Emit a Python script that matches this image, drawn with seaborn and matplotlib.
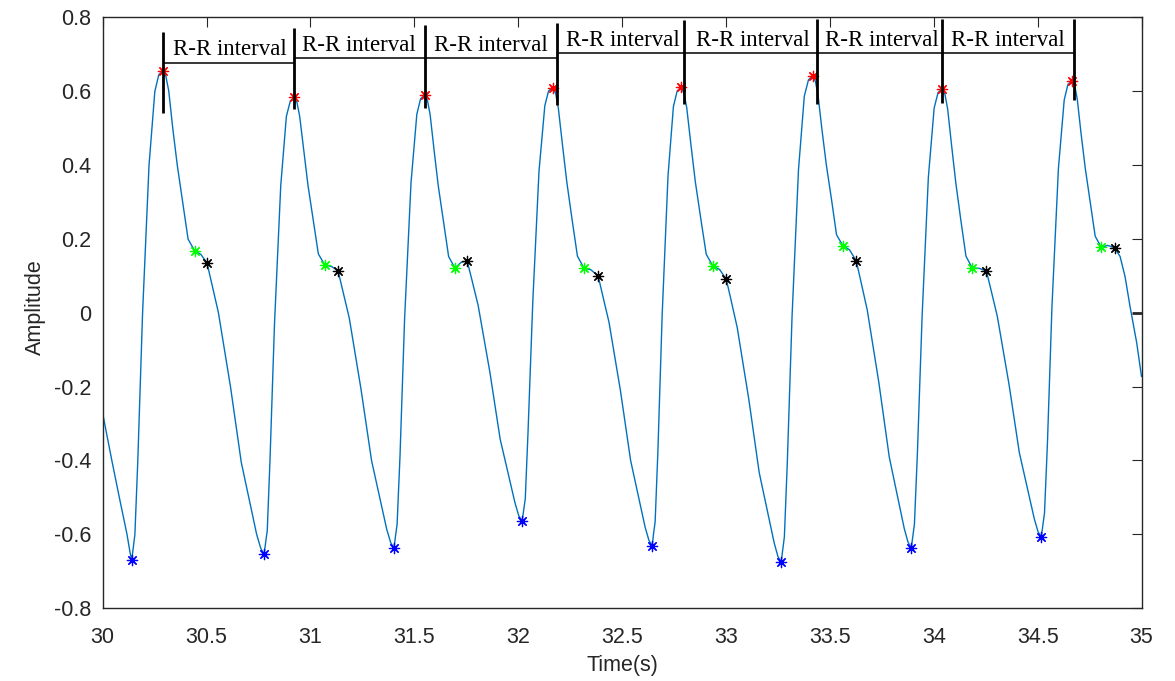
import numpy as np
import pandas as pd
import seaborn as sns
import matplotlib.pyplot as plt
from matplotlib.ticker import FuncFormatter


# -----------------------------
# DATA
# -----------------------------
# PPG trace, sampled by eye along the blue curve
time_s = [
    30.000, 30.044, 30.080, 30.117, 30.132, 30.140,
    30.147, 30.155, 30.169, 30.192, 30.223, 30.251, 30.270, 30.290, 30.304, 30.318, 30.337, 30.359,
    30.385, 30.411, 30.443, 30.472, 30.502, 30.521, 30.557, 30.615, 30.667, 30.741, 30.761, 30.777,
    30.784, 30.792, 30.805, 30.827, 30.857, 30.884, 30.903, 30.922, 30.935, 30.948, 30.968, 30.988,
    31.013, 31.038, 31.069, 31.101, 31.133, 31.152, 31.187, 31.243, 31.294, 31.367, 31.386, 31.402,
    31.409, 31.417, 31.431, 31.453, 31.484, 31.512, 31.530, 31.550, 31.563, 31.576, 31.595, 31.615,
    31.640, 31.665, 31.695, 31.725, 31.754, 31.773, 31.807, 31.863, 31.913, 31.985, 32.003, 32.019,
    32.026, 32.034, 32.047, 32.070, 32.100, 32.128, 32.146, 32.166, 32.180, 32.193, 32.213, 32.234,
    32.259, 32.285, 32.316, 32.350, 32.385, 32.403, 32.437, 32.492, 32.541, 32.611, 32.629, 32.645,
    32.651, 32.659, 32.672, 32.693, 32.721, 32.747, 32.765, 32.783, 32.797, 32.811, 32.831, 32.852,
    32.878, 32.905, 32.937, 32.969, 33.001, 33.020, 33.054, 33.110, 33.160, 33.232, 33.250, 33.266,
    33.273, 33.281, 33.295, 33.318, 33.349, 33.377, 33.397, 33.417, 33.430, 33.443, 33.462, 33.483,
    33.508, 33.532, 33.563, 33.595, 33.627, 33.646, 33.680, 33.736, 33.786, 33.858, 33.876, 33.892,
    33.899, 33.907, 33.921, 33.944, 33.974, 34.002, 34.021, 34.041, 34.054, 34.067, 34.086, 34.106,
    34.130, 34.155, 34.185, 34.219, 34.253, 34.272, 34.306, 34.362, 34.412, 34.484, 34.502, 34.518,
    34.525, 34.533, 34.547, 34.569, 34.600, 34.628, 34.646, 34.666, 34.679, 34.691, 34.709, 34.729,
    34.753, 34.777, 34.806, 34.837, 34.870, 34.897, 34.921, 34.945, 34.977, 35.000,
]
amplitude = [
    -0.273, -0.400, -0.500, -0.600, -0.650, -0.669,
    -0.636, -0.600, -0.400, 0.000, 0.399, 0.599, 0.644, 0.655, 0.640, 0.600, 0.500, 0.399,
    0.299, 0.199, 0.167, 0.158, 0.135, 0.088, 0.000, -0.200, -0.405, -0.600, -0.638, -0.654,
    -0.623, -0.590, -0.403, -0.029, 0.344, 0.531, 0.573, 0.583, 0.569, 0.532, 0.439, 0.345,
    0.252, 0.159, 0.129, 0.125, 0.113, 0.068, -0.015, -0.206, -0.400, -0.586, -0.622, -0.637,
    -0.606, -0.573, -0.388, -0.018, 0.352, 0.537, 0.579, 0.589, 0.575, 0.536, 0.440, 0.344,
    0.248, 0.152, 0.121, 0.136, 0.140, 0.098, 0.020, -0.159, -0.342, -0.516, -0.550, -0.564,
    -0.535, -0.503, -0.326, 0.028, 0.383, 0.560, 0.600, 0.609, 0.594, 0.554, 0.454, 0.353,
    0.253, 0.153, 0.121, 0.116, 0.099, 0.055, -0.026, -0.211, -0.400, -0.581, -0.616, -0.631,
    -0.600, -0.566, -0.379, -0.004, 0.371, 0.558, 0.600, 0.610, 0.595, 0.555, 0.456, 0.356,
    0.257, 0.158, 0.126, 0.117, 0.091, 0.045, -0.040, -0.235, -0.433, -0.623, -0.660, -0.675,
    -0.642, -0.607, -0.408, -0.010, 0.387, 0.586, 0.630, 0.641, 0.627, 0.589, 0.495, 0.400,
    0.306, 0.211, 0.181, 0.170, 0.140, 0.093, 0.007, -0.190, -0.391, -0.584, -0.621, -0.637,
    -0.606, -0.572, -0.385, -0.009, 0.366, 0.554, 0.596, 0.606, 0.591, 0.551, 0.452, 0.352,
    0.252, 0.153, 0.121, 0.120, 0.113, 0.070, -0.010, -0.193, -0.379, -0.558, -0.593, -0.607,
    -0.576, -0.543, -0.356, 0.017, 0.390, 0.576, 0.618, 0.628, 0.614, 0.577, 0.485, 0.392,
    0.299, 0.207, 0.177, 0.182, 0.176, 0.152, 0.097, 0.016, -0.082, -0.173,
]

# detected points
peak_t = [30.290, 30.922, 31.550, 32.166, 32.783, 33.417, 34.041, 34.666]
peak_v = [0.655, 0.583, 0.589, 0.609, 0.610, 0.641, 0.606, 0.628]
trough_t = [30.140, 30.777, 31.402, 32.019, 32.645, 33.266, 33.892, 34.518]
trough_v = [-0.669, -0.654, -0.637, -0.564, -0.631, -0.675, -0.637, -0.607]
notch_t = [30.443, 31.069, 31.695, 32.316, 32.937, 33.563, 34.185, 34.806]
notch_v = [0.167, 0.129, 0.121, 0.121, 0.126, 0.181, 0.121, 0.177]
dicrotic_t = [30.502, 31.133, 31.754, 32.385, 33.001, 33.627, 34.253, 34.870]
dicrotic_v = [0.135, 0.113, 0.140, 0.099, 0.091, 0.140, 0.113, 0.176]

# R-R interval brackets
rr_line_t = [30.290, 30.923, 31.551, 32.185, 32.799, 33.438, 34.041, 34.676]
rr_line_bottom = [0.540, 0.551, 0.553, 0.562, 0.565, 0.565, 0.567, 0.576]
rr_line_top = [0.761, 0.770, 0.779, 0.784, 0.792, 0.794, 0.794, 0.794]
rr_bar_v = [0.677, 0.688, 0.688, 0.702, 0.702, 0.702, 0.702]
rr_text_t = [30.336, 30.960, 31.594, 32.230, 32.857, 33.478, 34.083]
rr_label = "R-R interval"

x_ticks = [30, 30.5, 31, 31.5, 32, 32.5, 33, 33.5, 34, 34.5, 35]
y_ticks = [-0.8, -0.6, -0.4, -0.2, 0, 0.2, 0.4, 0.6, 0.8]


# -----------------------------
# STYLE
# -----------------------------
sns.set_theme(style="white")
plt.rcParams["font.family"] = ["Liberation Sans", "DejaVu Sans"]
plt.rcParams["axes.unicode_minus"] = False

axis_gray = "#262626"

df = pd.DataFrame({"Time": time_s, "Amplitude": amplitude})

fig = plt.figure(figsize=(11.75, 6.81), dpi=100)
ax = fig.add_axes([0.0874, 0.1068, 0.8841, 0.8681])

# -----------------------------
# PLOT
# -----------------------------
sns.lineplot(data=df, x="Time", y="Amplitude", ax=ax, color="#0072BD",
             linewidth=1.0, sort=False, estimator=None)

star = (8, 2, 0)
for tt, vv, col in [(peak_t, peak_v, "#FF0000"), (trough_t, trough_v, "#0000FF"),
                    (notch_t, notch_v, "#00FF00"), (dicrotic_t, dicrotic_v, "#000000")]:
    sns.scatterplot(x=tt, y=vv, ax=ax, marker=star, color=col, s=55,
                    linewidth=0.9, zorder=3)

# R-R brackets
ax.vlines(rr_line_t, rr_line_bottom, rr_line_top, color="black", linewidth=2.0, zorder=4)
ax.hlines(rr_bar_v, rr_line_t[:-1], rr_line_t[1:], color="black", linewidth=1.1, zorder=4)
for tx, bv in zip(rr_text_t, rr_bar_v):
    ax.text(tx, bv + 0.021, rr_label, family=["Liberation Serif", "DejaVu Serif"],
            fontsize=16.5, color="black", va="baseline", ha="left", zorder=5)

# axes
ax.set_xlim(30, 35)
ax.set_ylim(-0.8, 0.8)
ax.set_xticks(x_ticks)
ax.set_yticks(y_ticks)
ax.xaxis.set_major_formatter(FuncFormatter(lambda v, p: f"{v:g}"))
ax.yaxis.set_major_formatter(FuncFormatter(lambda v, p: f"{v:g}"))
ax.tick_params(axis="both", direction="in", length=7, width=0.8, color=axis_gray,
               labelcolor=axis_gray, labelsize=15.5, top=True, right=True)
ax.tick_params(axis="x", pad=13.5)
ax.tick_params(axis="y", pad=8)
for sp in ax.spines.values():
    sp.set_color(axis_gray)
    sp.set_linewidth(1.0)

# darker tick at zero
for tick, loc in zip(ax.yaxis.get_major_ticks(), y_ticks):
    if loc == 0:
        for ln in (tick.tick1line, tick.tick2line):
            ln.set_color("black")
            ln.set_markeredgewidth(2.0)

ax.set_xlabel("Time(s)", fontsize=15.5, color=axis_gray)
ax.set_ylabel("Amplitude", fontsize=15.5, color=axis_gray)
ax.xaxis.set_label_coords(0.5, -0.079)
ax.yaxis.set_label_coords(-0.0546, 0.51)

fig.savefig("out.png", dpi=100)
